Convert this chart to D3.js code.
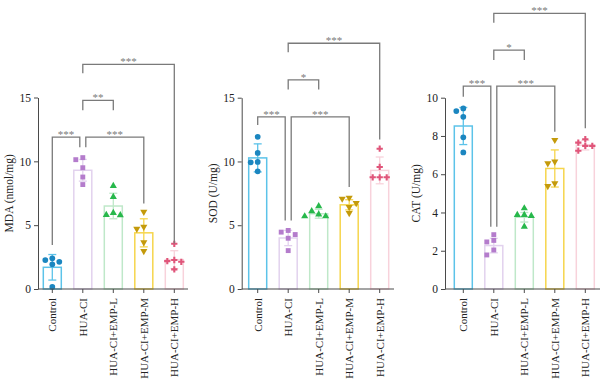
<!DOCTYPE html>
<html>
<head>
<meta charset="utf-8">
<script src="https://cdn.jsdelivr.net/npm/d3@7/dist/d3.min.js"></script>
<style>
  html, body { margin: 0; padding: 0; background: #fff; }
  svg { display: block; }
</style>
</head>
<body>
<svg id="chart" width="600" height="380"></svg>
<script>
// ---------------- DATA ----------------
const categories = ["Control", "HUA-CI", "HUA-CI+EMP-L", "HUA-CI+EMP-M", "HUA-CI+EMP-H"];

const mdaMean = [1.7, 9.3, 6.5, 4.4, 2.3];
const mdaSD   = [1.0, 0.85, 1.0, 1.1, 0.7];
const mdaPoints = [
  [2.27, 2.4, 1.93, 2.13, 0.16],
  [10.29, 10.13, 9.5, 8.77, 8.18],
  [8.07, 7.21, 5.96, 5.78, 5.8],
  [6.04, 4.71, 4.87, 3.65, 2.97],
  [3.54, 2.27, 2.13, 2.18, 1.54]
];
const mdaTicks = [0, 5, 10, 15];
// [groupA, groupB, level, legEndA, legEndB, label]
const mdaBrackets = [
  [0, 1, 11.9, 3.44, 11.1, "***"],
  [1, 3, 11.9, 11.1, 6.7, "***"],
  [1, 2, 14.77, 14.0, 14.0, "**"],
  [1, 4, 17.6, 16.9, 3.57, "***"]
];

const sodMean = [10.28, 4.0, 5.9, 6.6, 9.3];
const sodSD   = [1.1, 0.6, 0.35, 0.4, 1.05];
const sodPoints = [
  [11.93, 10.67, 9.96, 9.93, 9.23],
  [4.46, 3.98, 4.59, 4.27, 3.01],
  [6.5, 6.1, 5.85, 5.7, 5.7],
  [7.08, 7.16, 6.74, 6.42, 5.95],
  [11.0, 9.57, 8.76, 8.76, 8.76]
];
const sodTicks = [0, 5, 10, 15];
const sodBrackets = [
  [0, 1, 13.5, 12.85, 5.37, "***"],
  [1, 3, 13.5, 5.37, 8.0, "***"],
  [1, 2, 16.4, 15.65, 15.65, "*"],
  [1, 4, 19.27, 18.57, 11.72, "***"]
];

const catMean = [8.52, 2.27, 3.75, 6.3, 7.52];
const catSD   = [0.97, 0.38, 0.25, 0.97, 0.25];
const catPoints = [
  [9.44, 9.3, 9.0, 7.93, 7.14],
  [2.84, 2.46, 2.54, 2.04, 1.78],
  [4.22, 3.87, 3.82, 3.87, 3.26],
  [7.79, 6.57, 6.66, 5.38, 5.52],
  [7.83, 7.65, 7.48, 7.48, 7.23]
];
const catTicks = [0, 2, 4, 6, 8, 10];
const catBrackets = [
  [0, 1, 10.61, 10.05, 3.26, "***"],
  [1, 3, 10.61, 3.26, 8.22, "***"],
  [1, 2, 12.49, 11.97, 11.97, "*"],
  [1, 4, 14.41, 13.92, 8.4, "***"]
];

// ---------------- STYLE ----------------
const barStroke = ["#5cc3e9", "#e2d2ee", "#bfe8c9", "#f6d54c", "#f8d2db"];
const pointFill = ["#1b86c0", "#b47ccc", "#27b84b", "#c49a0b", "#e0557a"];
const symbols = [d3.symbolCircle, d3.symbolSquare, d3.symbolTriangle, d3.symbolTriangle, d3.symbolCross];
const symbolSize = [26, 24, 22, 22, 22];
const symbolRotate = [0, 0, 0, 180, 0];

const FONT = "'Liberation Serif', 'DejaVu Serif', serif";
const svg = d3.select("#chart");

const panels = [
  { title: "MDA (nmol/mg)", mean: mdaMean, sd: mdaSD, pts: mdaPoints, ticks: mdaTicks, brackets: mdaBrackets,
    axisX: 38, bandStart: 43.3, axisEnd: 188, yMax: 15, yTop: 97.5 },
  { title: "SOD (U/mg)", mean: sodMean, sd: sodSD, pts: sodPoints, ticks: sodTicks, brackets: sodBrackets,
    axisX: 241.7, bandStart: 248.7, axisEnd: 394, yMax: 15, yTop: 97.7 },
  { title: "CAT (U/mg)", mean: catMean, sd: catSD, pts: catPoints, ticks: catTicks, brackets: catBrackets,
    axisX: 445, bandStart: 454.3, axisEnd: 600, yMax: 10, yTop: 97.7 }
];
const Y0 = 289;
const STEP = 28;

panels.forEach(p => {
  const g = svg.append("g");
  const x = d3.scaleBand().domain(categories)
    .range([p.bandStart, p.bandStart + STEP * categories.length])
    .paddingInner(0.41).paddingOuter(0);
  const y = d3.scaleLinear().domain([0, p.yMax]).range([Y0, p.yTop]);
  const cx = i => x(categories[i]) + x.bandwidth() / 2;

  // bars
  g.selectAll("rect.bar").data(p.mean).join("rect")
    .attr("class", "bar")
    .attr("x", (d, i) => x(categories[i]))
    .attr("width", x.bandwidth())
    .attr("y", d => y(d))
    .attr("height", d => Y0 - y(d))
    .attr("fill", "#fff")
    .attr("stroke", (d, i) => barStroke[i])
    .attr("stroke-width", 1.5);

  // error bars
  const capW = 4;
  p.mean.forEach((m, i) => {
    const s = p.sd[i];
    const eg = g.append("g").attr("stroke", barStroke[i]).attr("stroke-width", 1.3);
    eg.append("line").attr("x1", cx(i)).attr("x2", cx(i)).attr("y1", y(m - s)).attr("y2", y(m + s));
    eg.append("line").attr("x1", cx(i) - capW).attr("x2", cx(i) + capW).attr("y1", y(m + s)).attr("y2", y(m + s));
    eg.append("line").attr("x1", cx(i) - capW).attr("x2", cx(i) + capW).attr("y1", y(m - s)).attr("y2", y(m - s));
  });

  // points (simple beeswarm)
  p.pts.forEach((vals, i) => {
    const placed = [];
    const order = vals.map((v, k) => k).sort((a, b) => vals[b] - vals[a]);
    const cands = [0, -7, 7, -14, 14];
    order.forEach(k => {
      const py = y(vals[k]);
      let off = 0;
      for (const c of cands) {
        const ok = placed.every(q => Math.hypot(q.dx - c, q.py - py) >= 5.5);
        if (ok) { off = c; break; }
      }
      placed.push({ dx: off, py, v: vals[k] });
    });
    const sym = d3.symbol().type(symbols[i]).size(symbolSize[i]);
    g.selectAll(null).data(placed).join("path")
      .attr("d", sym)
      .attr("transform", d => `translate(${cx(i) + d.dx},${d.py}) rotate(${symbolRotate[i]})`)
      .attr("fill", pointFill[i]);
  });

  // y axis
  const yAxis = d3.axisLeft(y).tickValues(p.ticks).tickSize(4).tickSizeOuter(0).tickPadding(3);
  const ya = g.append("g").attr("transform", `translate(${p.axisX},0)`).call(yAxis);
  ya.selectAll("path, line").attr("stroke", "#4a4a4a").attr("stroke-width", 1);
  ya.selectAll("text").attr("font-family", FONT).attr("font-size", 11.5).attr("fill", "#222");

  // x axis
  const xAxis = d3.axisBottom(x).tickSize(4).tickSizeOuter(0);
  const xa = g.append("g").attr("transform", `translate(0,${Y0})`).call(xAxis);
  xa.select(".domain").remove();
  xa.append("line").attr("x1", p.axisX).attr("x2", p.axisEnd).attr("y1", 0).attr("y2", 0)
    .attr("stroke", "#4a4a4a").attr("stroke-width", 1);
  xa.selectAll("line").attr("stroke", "#4a4a4a");
  xa.selectAll(".tick text")
    .attr("font-family", FONT).attr("font-size", 11).attr("fill", "#222")
    .attr("transform", "rotate(-90)")
    .attr("text-anchor", "end")
    .attr("x", -9).attr("y", 0).attr("dy", "0.35em");

  // y title
  g.append("text")
    .attr("transform", `translate(${p.axisX - 25},${(Y0 + p.yTop) / 2}) rotate(-90)`)
    .attr("text-anchor", "middle")
    .attr("font-family", FONT).attr("font-size", 11.5).attr("fill", "#222")
    .text(p.title);

  // brackets
  const nudge = 3;
  p.brackets.forEach((b, bi) => {
    const [a, c, lvl, ea, eb, label] = b;
    let xa1 = cx(a), xb1 = cx(c);
    p.brackets.forEach((o, oi) => {
      if (oi === bi || o[2] !== lvl) return;
      if (o[0] === c) xb1 -= nudge;
      if (o[1] === a) xa1 += nudge;
    });
    const bg = g.append("g");
    bg.append("path")
      .attr("d", `M${xa1},${y(ea)}V${y(lvl)}H${xb1}V${y(eb)}`)
      .attr("fill", "none").attr("stroke", "#7a7a7a").attr("stroke-width", 1.3);
    bg.append("text")
      .attr("x", (xa1 + xb1) / 2).attr("y", y(lvl) + 1)
      .attr("text-anchor", "middle")
      .attr("font-family", FONT).attr("font-size", 11).attr("fill", "#7a7a7a")
      .text(label);
  });
});
</script>
</body>
</html>
